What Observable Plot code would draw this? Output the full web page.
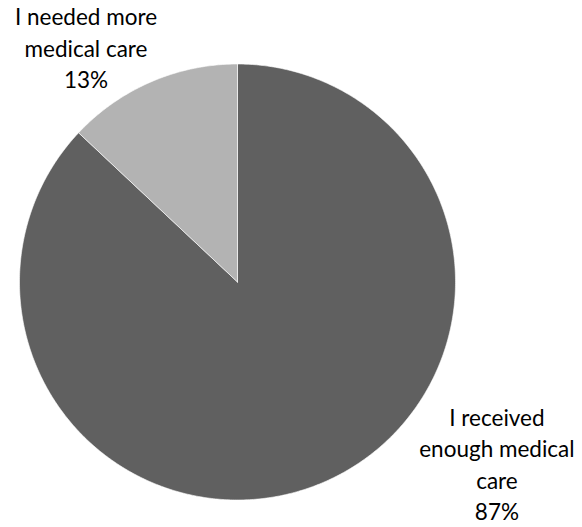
<!DOCTYPE html>
<html>
<head>
<meta charset="utf-8">
<script src="https://cdn.jsdelivr.net/npm/d3@7"></script>
<script src="https://cdn.jsdelivr.net/npm/@observablehq/plot@0.6"></script>
<style>
  html, body { margin: 0; padding: 0; background: #fff; }
</style>
</head>
<body>
<div id="chart"></div>
<script>
// Data
const categories = ["I received enough medical care", "I needed more medical care"];
const labelTexts = ["I received\nenough medical\ncare", "I needed more\nmedical care"];
const values = [87, 13];
const colors = ["#606060", "#b3b3b3"];

// Layout (pixel geometry)
const W = 582, H = 527;
const cx = 237, cy = 281.5, R = 218;

// pie angles: start at 12 o'clock, clockwise, in given order
const pie = d3.pie().sort(null).value(d => d.value);
const arcs = pie(categories.map((c, i) => ({name: c, value: values[i], label: labelTexts[i], color: colors[i]})));

// Build polygon rows in unit coords (y up)
const rows = [];
arcs.forEach(a => {
  const n = Math.max(4, Math.ceil((a.endAngle - a.startAngle) / (Math.PI / 360)));
  rows.push({name: a.data.name, x: 0, y: 0});
  for (let k = 0; k <= n; k++) {
    const t = a.startAngle + (a.endAngle - a.startAngle) * k / n;
    rows.push({name: a.data.name, x: Math.sin(t), y: Math.cos(t)});
  }
  rows.push({name: a.data.name, x: 0, y: 0});
});

// label placement offsets (in units of radius)
const labelOffsets = {
  [categories[0]]: {dx: 1.19, dy: -0.83},
  [categories[1]]: {dx: -0.695, dy: 1.08}
};
const labels = arcs.map(a => {
  const o = labelOffsets[a.data.name];
  return {name: a.data.name, x: o.dx, y: o.dy, text: a.data.label + "\n" + a.data.value + "%"};
});

const xDomain = [(0 - cx) / R, (W - cx) / R];
const yDomain = [-(H - cy) / R, cy / R];

const chart = Plot.plot({
  width: W,
  height: H,
  margin: 0,
  x: {domain: xDomain, axis: null},
  y: {domain: yDomain, axis: null},
  color: {domain: categories, range: colors},
  style: {fontFamily: "Lato, 'Open Sans', sans-serif", background: "#fff"},
  marks: [
    Plot.line(rows, {x: "x", y: "y", z: "name", fill: "name", stroke: "white", strokeWidth: 0.6, curve: "linear"}),
    Plot.text(labels, {x: "x", y: "y", text: "text", fontSize: 22.5, lineHeight: 1.4, fill: "#000", textAnchor: "middle"})
  ]
});
document.getElementById("chart").appendChild(chart);
</script>
</body>
</html>
